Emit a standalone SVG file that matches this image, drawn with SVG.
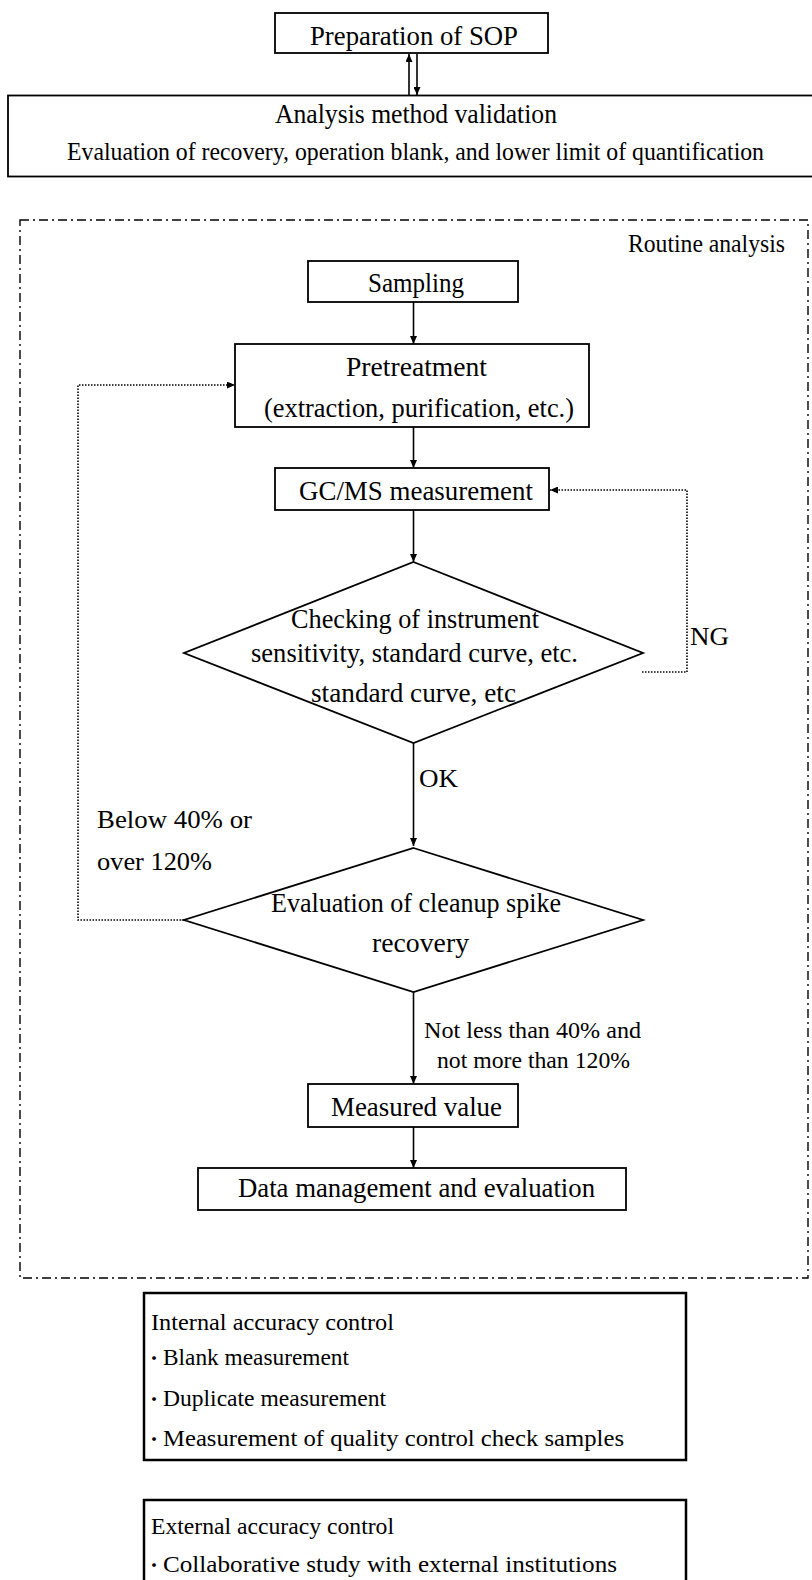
<svg xmlns="http://www.w3.org/2000/svg" width="812" height="1580" viewBox="0 0 812 1580">
<style>
text{font-family:"Liberation Serif","Times New Roman",serif;fill:#000}
.h{font-size:28px;text-anchor:middle}
.s{font-size:25px}
.l{font-size:24px}
.b{font-family:"Noto Sans CJK JP",sans-serif;font-size:18px}
.box{fill:#fff;stroke:#000;stroke-width:1.8}
.tbox{fill:#fff;stroke:#000;stroke-width:2.5}
.dia{fill:#fff;stroke:#000;stroke-width:1.8}
.ln{fill:none;stroke:#000;stroke-width:1.6}
.dot{fill:none;stroke:#000;stroke-width:1.6;stroke-dasharray:1.5 1.5}
.dd{fill:none;stroke:#000;stroke-width:1.4;stroke-dasharray:9 4 2 4}
</style>
<defs>
<marker id="ah" viewBox="0 0 8 7" refX="8" refY="3.5" markerWidth="8" markerHeight="7" markerUnits="userSpaceOnUse" orient="auto">
<path d="M0,0 L8,3.5 L0,7 z" fill="#000"/>
</marker>
</defs>
<rect width="812" height="1580" fill="#fff"/>

<g id="routine-frame">
<rect class="dd" x="20" y="220" width="788" height="1058"/>
<text class="s" x="785" y="252" text-anchor="end" textLength="157" lengthAdjust="spacingAndGlyphs">Routine analysis</text>
</g>

<g id="connectors">
<line class="ln" x1="409" y1="96" x2="409" y2="54" stroke-width="2.2" marker-end="url(#ah)"/>
<line class="ln" x1="417" y1="54" x2="417" y2="95" stroke-width="2.2" marker-end="url(#ah)"/>
<line class="ln" x1="413.5" y1="302" x2="413.5" y2="344" marker-end="url(#ah)"/>
<line class="ln" x1="413.5" y1="427" x2="413.5" y2="468" marker-end="url(#ah)"/>
<line class="ln" x1="413.5" y1="510" x2="413.5" y2="562" marker-end="url(#ah)"/>
<line class="ln" x1="413.5" y1="743" x2="413.5" y2="846" marker-end="url(#ah)"/>
<line class="ln" x1="413.5" y1="992" x2="413.5" y2="1084" marker-end="url(#ah)"/>
<line class="ln" x1="413.5" y1="1127" x2="413.5" y2="1168" marker-end="url(#ah)"/>
<polyline class="dot" points="642,672 687,672 687,490 550,490" marker-end="url(#ah)"/>
<polyline class="dot" points="184,920 78,920 78,385 235,385" marker-end="url(#ah)"/>
<text class="s" x="690" y="645" textLength="39" lengthAdjust="spacingAndGlyphs">NG</text>
<text class="s" x="419" y="787" textLength="39" lengthAdjust="spacingAndGlyphs">OK</text>
<text class="s" x="97" y="828" textLength="155" lengthAdjust="spacingAndGlyphs">Below 40% or</text>
<text class="s" x="97" y="870" textLength="115" lengthAdjust="spacingAndGlyphs">over 120%</text>
<text class="l" x="424" y="1038" textLength="217" lengthAdjust="spacingAndGlyphs">Not less than 40% and</text>
<text class="l" x="437" y="1068" textLength="193" lengthAdjust="spacingAndGlyphs">not more than 120%</text>
</g>

<g id="prep-sop">
<rect class="box" x="275" y="13" width="273" height="40"/>
<text class="h" x="414" y="45" textLength="208" lengthAdjust="spacingAndGlyphs">Preparation of SOP</text>
</g>

<g id="validation">
<rect class="box" x="8" y="95.5" width="810" height="81"/>
<text class="h" x="416" y="123" textLength="282" lengthAdjust="spacingAndGlyphs">Analysis method validation</text>
<text class="s" x="415.5" y="160" text-anchor="middle" textLength="697" lengthAdjust="spacingAndGlyphs">Evaluation of recovery, operation blank, and lower limit of quantification</text>
</g>

<g id="sampling">
<rect class="box" x="308" y="261" width="210" height="41"/>
<text class="h" x="416" y="292" textLength="96" lengthAdjust="spacingAndGlyphs">Sampling</text>
</g>

<g id="pretreatment">
<rect class="box" x="235" y="344" width="354" height="83"/>
<text class="h" x="416.5" y="376" textLength="141" lengthAdjust="spacingAndGlyphs">Pretreatment</text>
<text class="h" x="419" y="417" textLength="310" lengthAdjust="spacingAndGlyphs">(extraction, purification, etc.)</text>
</g>

<g id="gcms">
<rect class="box" x="275" y="468" width="274" height="42"/>
<text class="h" x="416" y="500" textLength="234" lengthAdjust="spacingAndGlyphs">GC/MS measurement</text>
</g>

<g id="check-instrument">
<polygon class="dia" points="413.5,562 643,653 413.5,743 184,653"/>
<text class="h" x="415" y="628" textLength="248" lengthAdjust="spacingAndGlyphs">Checking of instrument</text>
<text class="h" x="414.5" y="662" textLength="327" lengthAdjust="spacingAndGlyphs">sensitivity, standard curve, etc.</text>
<text class="h" x="413.5" y="702" textLength="205" lengthAdjust="spacingAndGlyphs">standard curve, etc</text>
</g>

<g id="check-recovery">
<polygon class="dia" points="413.5,848 643,920 413.5,992 184,920"/>
<text class="h" x="416" y="912" textLength="290" lengthAdjust="spacingAndGlyphs">Evaluation of cleanup spike</text>
<text class="h" x="420.5" y="952" textLength="97" lengthAdjust="spacingAndGlyphs">recovery</text>
</g>

<g id="measured-value">
<rect class="box" x="308" y="1084" width="210" height="43"/>
<text class="h" x="416.5" y="1116" textLength="171" lengthAdjust="spacingAndGlyphs">Measured value</text>
</g>

<g id="data-management">
<rect class="box" x="198" y="1168" width="428" height="42"/>
<text class="h" x="416.5" y="1197" textLength="357" lengthAdjust="spacingAndGlyphs">Data management and evaluation</text>
</g>

<g id="internal-control">
<rect class="tbox" x="144" y="1293" width="542" height="167"/>
<text class="l" x="151" y="1330" textLength="243" lengthAdjust="spacingAndGlyphs">Internal accuracy control</text>
<text class="l" x="145" y="1365"><tspan class="b">・</tspan><tspan x="163" textLength="186" lengthAdjust="spacingAndGlyphs">Blank measurement</tspan></text>
<text class="l" x="145" y="1406"><tspan class="b">・</tspan><tspan x="163" textLength="223" lengthAdjust="spacingAndGlyphs">Duplicate measurement</tspan></text>
<text class="l" x="145" y="1446"><tspan class="b">・</tspan><tspan x="163" textLength="461" lengthAdjust="spacingAndGlyphs">Measurement of quality control check samples</tspan></text>
</g>

<g id="external-control">
<rect class="tbox" x="144" y="1500" width="542" height="100"/>
<text class="l" x="151" y="1534" textLength="243" lengthAdjust="spacingAndGlyphs">External accuracy control</text>
<text class="l" x="145" y="1572"><tspan class="b">・</tspan><tspan x="163" textLength="454" lengthAdjust="spacingAndGlyphs">Collaborative study with external institutions</tspan></text>
</g>
</svg>
